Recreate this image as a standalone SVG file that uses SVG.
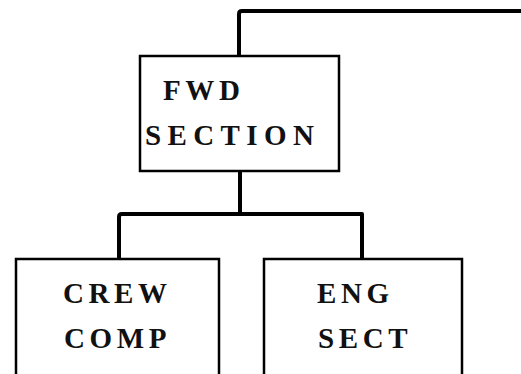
<svg xmlns="http://www.w3.org/2000/svg" width="521" height="374" viewBox="0 0 521 374">
  <style>
    .box { fill: #ffffff; stroke: #000000; stroke-width: 2.5; }
    .conn { fill: none; stroke: #000000; stroke-width: 4; stroke-linejoin: round; }
    .lbl { font-family: "Liberation Serif", "Times New Roman", serif; font-weight: bold; font-size: 29px; letter-spacing: 4.6px; fill: #111111; }
    .wide { letter-spacing: 6.4px; }
  </style>
  <rect x="0" y="0" width="521" height="374" fill="#ffffff"/>
  <g id="connectors">
    <path class="conn" d="M239,56 L239,14 Q239,11 242,11 L521,11"/>
    <path class="conn" d="M240,171 L240,214"/>
    <path class="conn" d="M119,259 L119,217 Q119,214 122,214 L362,214 L362,259"/>
  </g>
  <g id="fwd-section">
    <rect class="box" x="140" y="56" width="199" height="115"/>
    <text class="lbl" x="163" y="100">FWD</text>
    <text class="lbl wide" x="145" y="145">SECTION</text>
  </g>
  <g id="crew-comp">
    <rect class="box" x="16" y="259" width="203" height="130"/>
    <text class="lbl" x="63" y="303">CREW</text>
    <text class="lbl" x="64" y="348">COMP</text>
  </g>
  <g id="eng-sect">
    <rect class="box" x="264" y="259" width="198" height="130"/>
    <text class="lbl" x="317" y="303">ENG</text>
    <text class="lbl" x="318" y="348">SECT</text>
  </g>
</svg>
